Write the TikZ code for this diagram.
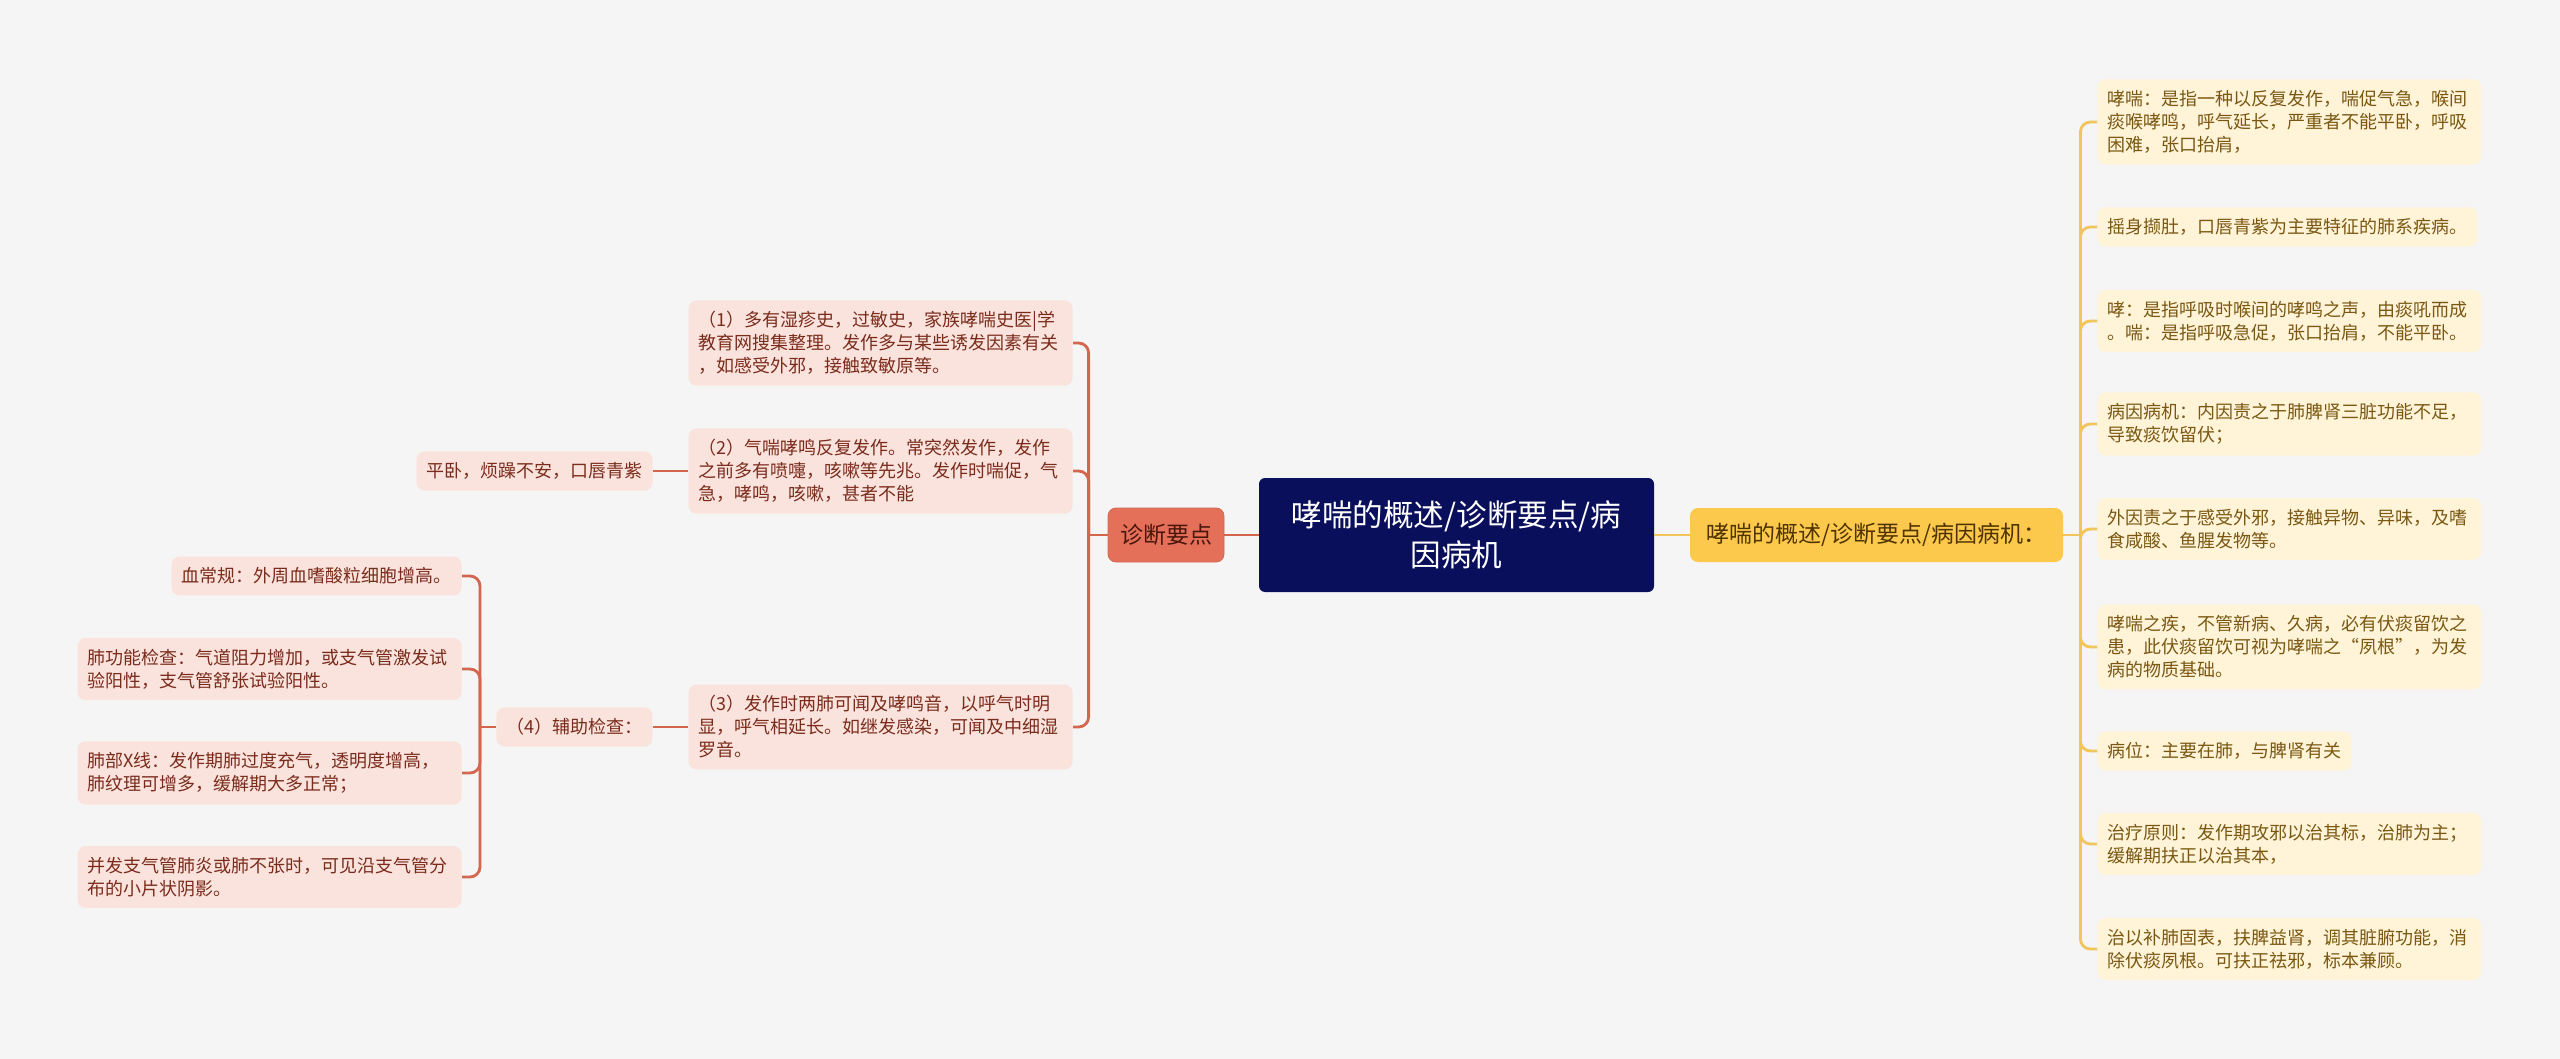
\documentclass[tikz,border=0pt]{standalone}
\usepackage{fontspec}
\newfontfamily\cjk{Noto Sans CJK SC}
\definecolor{bgc}{HTML}{F5F5F5}
\definecolor{navy}{HTML}{0A0F5C}
\definecolor{coral}{HTML}{E5705A}
\definecolor{coraltext}{HTML}{4A160C}
\definecolor{gold}{HTML}{FDC94C}
\definecolor{goldtext}{HTML}{4F3300}
\definecolor{pinkfill}{HTML}{FBE3DD}
\definecolor{pinktext}{HTML}{7A2C1C}
\definecolor{creamfill}{HTML}{FFF3D8}
\definecolor{creamtext}{HTML}{7A5812}
\definecolor{redline}{HTML}{D4664F}
\definecolor{goldline}{HTML}{F2C45C}

\tikzset{
  hub/.style={fill=navy, text=white, rounded corners=3pt, align=center,
    font=\cjk\fontsize{15.3}{20}\selectfont, minimum width=197.5pt, minimum height=57pt},
  redbox/.style={fill=coral, draw=redline, text=coraltext, rounded corners=4pt,
    font=\cjk\fontsize{11.5}{14}\selectfont, minimum width=58pt, minimum height=27pt},
  goldbox/.style={fill=gold, text=goldtext, rounded corners=4pt,
    font=\cjk\fontsize{11.5}{14}\selectfont, minimum width=186.5pt, minimum height=27pt},
  leafl/.style={fill=pinkfill, text=pinktext, rounded corners=4pt, align=left,
    font=\cjk\fontsize{9}{11.5}\selectfont, inner xsep=5pt, inner ysep=5.5pt},
  leafr/.style={fill=creamfill, text=creamtext, rounded corners=4pt, align=left,
    font=\cjk\fontsize{9}{11.5}\selectfont, inner xsep=5pt, inner ysep=5.5pt},
  wide/.style={text width=182pt},
  linkl/.style={draw=redline, line width=1.4pt, rounded corners=5pt},
  linkr/.style={draw=goldline, line width=1.4pt, rounded corners=5pt}
}

\begin{document}
\begin{tikzpicture}[x=0.5pt,y=-0.5pt]
\useasboundingbox (0,0) rectangle (2560,1059);
\fill[bgc] (0,0) rectangle (2560,1059);

% centre and the two main branches
\node[hub] (root) at (1456.5,535) {哮喘的概述/诊断要点/病\\因病机};
\node[redbox] (diag) at (1166,535) {诊断要点};
\node[goldbox] (over) at (1876.5,535) {哮喘的概述/诊断要点/病因病机：};

% right side
\node[leafr, wide, anchor=west] (r1) at (2097,122) {哮喘：是指一种以反复发作，喘促气急，喉间\\痰喉哮鸣，呼气延长，严重者不能平卧，呼吸\\困难，张口抬肩，};
\node[leafr, anchor=west] (r2) at (2097,227) {摇身撷肚，口唇青紫为主要特征的肺系疾病。};
\node[leafr, wide, anchor=west] (r3) at (2097,321) {哮：是指呼吸时喉间的哮鸣之声，由痰吼而成\\。喘：是指呼吸急促，张口抬肩，不能平卧。};
\node[leafr, wide, anchor=west] (r4) at (2097,424) {病因病机：内因责之于肺脾肾三脏功能不足，\\导致痰饮留伏；};
\node[leafr, wide, anchor=west] (r5) at (2097,529) {外因责之于感受外邪，接触异物、异味，及嗜\\食咸酸、鱼腥发物等。};
\node[leafr, wide, anchor=west] (r6) at (2097,647) {哮喘之疾，不管新病、久病，必有伏痰留饮之\\患，此伏痰留饮可视为哮喘之“夙根”，为发\\病的物质基础。};
\node[leafr, anchor=west] (r7) at (2097,751) {病位：主要在肺，与脾肾有关};
\node[leafr, wide, anchor=west] (r8) at (2097,844) {治疗原则：发作期攻邪以治其标，治肺为主；\\缓解期扶正以治其本，};
\node[leafr, wide, anchor=west] (r9) at (2097,949) {治以补肺固表，扶脾益肾，调其脏腑功能，消\\除伏痰夙根。可扶正祛邪，标本兼顾。};

% left side
\node[leafl, wide, anchor=east] (d1) at (1073,343) {（1）多有湿疹史，过敏史，家族哮喘史医|学\\教育网搜集整理。发作多与某些诱发因素有关\\，如感受外邪，接触致敏原等。};
\node[leafl, wide, anchor=east] (d2) at (1073,471) {（2）气喘哮鸣反复发作。常突然发作，发作\\之前多有喷嚏，咳嗽等先兆。发作时喘促，气\\急，哮鸣，咳嗽，甚者不能};
\node[leafl, wide, anchor=east] (d3) at (1073,727) {（3）发作时两肺可闻及哮鸣音，以呼气时明\\显，呼气相延长。如继发感染，可闻及中细湿\\罗音。};
\node[leafl, anchor=east] (lie) at (653,471) {平卧，烦躁不安，口唇青紫};
\node[leafl, anchor=west] (aux) at (496,727) {（4）辅助检查：};
\node[leafl, anchor=east] (k1) at (462,576) {血常规：外周血嗜酸粒细胞增高。};
\node[leafl, wide, anchor=east] (k2) at (462,669) {肺功能检查：气道阻力增加，或支气管激发试\\验阳性，支气管舒张试验阳性。};
\node[leafl, wide, anchor=east] (k3) at (462,773) {肺部X线：发作期肺过度充气，透明度增高，\\肺纹理可增多，缓解期大多正常；};
\node[leafl, wide, anchor=east] (k4) at (462,877) {并发支气管肺炎或肺不张时，可见沿支气管分\\布的小片状阴影。};

% connectors
\draw[linkl] (root.west) -- (diag.east);
\draw[linkr] (root.east) -- (over.west);

\draw[linkr] (over.east) -- ++(17,0) coordinate (rj);
\draw[linkr] (rj) |- (r1.west);
\draw[linkr] (rj) |- (r2.west);
\draw[linkr] (rj) |- (r3.west);
\draw[linkr] (rj) |- (r4.west);
\draw[linkr] (rj) |- (r5.west);
\draw[linkr] (rj) |- (r6.west);
\draw[linkr] (rj) |- (r7.west);
\draw[linkr] (rj) |- (r8.west);
\draw[linkr] (rj) |- (r9.west);

\draw[linkl] (diag.west) -- ++(-19,0) coordinate (lj);
\draw[linkl] (lj) |- (d1.east);
\draw[linkl] (lj) |- (d2.east);
\draw[linkl] (lj) |- (d3.east);

\draw[linkl] (d2.west) -- (lie.east);
\draw[linkl] (d3.west) -- (aux.east);

\draw[linkl] (aux.west) -- ++(-16,0) coordinate (aj);
\draw[linkl] (aj) |- (k1.east);
\draw[linkl] (aj) |- (k2.east);
\draw[linkl] (aj) |- (k3.east);
\draw[linkl] (aj) |- (k4.east);
\end{tikzpicture}
\end{document}
